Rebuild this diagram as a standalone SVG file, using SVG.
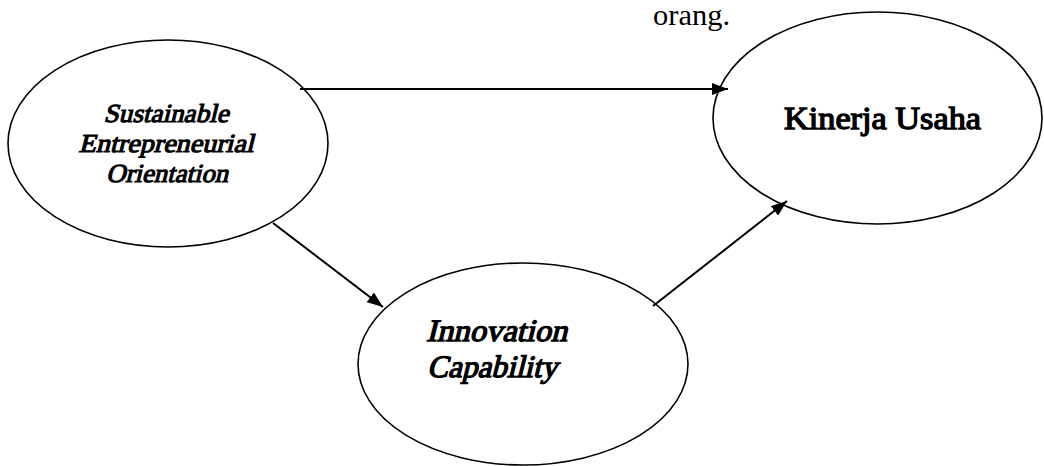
<svg xmlns="http://www.w3.org/2000/svg" width="1044" height="466" viewBox="0 0 1044 466">
<style>
.node{fill:#fff;stroke:#000;stroke-width:1.6}
.conn{stroke:#000;stroke-width:2;fill:none}
.t{font-family:"Liberation Serif","Times New Roman",Times,serif;font-weight:normal;font-style:normal;fill:#000}
.bold{stroke:#000;stroke-width:1.1;stroke-linejoin:miter}
.bold2{stroke:#000;stroke-width:1.3;stroke-linejoin:miter}
</style>
<defs>
<marker id="arr" viewBox="0 0 16 12" refX="16" refY="6" markerWidth="16" markerHeight="12" markerUnits="userSpaceOnUse" orient="auto">
<path d="M0,0 L16,6 L0,12 Z" fill="#000"/>
</marker>
</defs>
<rect width="1044" height="466" fill="#fff"/>
<text class="t" x="653" y="25" font-size="30" textLength="77" lengthAdjust="spacingAndGlyphs">orang.</text>
<g id="node-seo">
<ellipse class="node" cx="168" cy="143.5" rx="160" ry="103.5"/>
<text class="t bold" font-size="26" text-anchor="middle" transform="translate(166,122) skewX(-14)" textLength="125" lengthAdjust="spacingAndGlyphs">Sustainable</text>
<text class="t bold" font-size="26" text-anchor="middle" transform="translate(166,152) skewX(-14)" textLength="175" lengthAdjust="spacingAndGlyphs">Entrepreneurial</text>
<text class="t bold" font-size="26" text-anchor="middle" transform="translate(167,182) skewX(-14)" textLength="122" lengthAdjust="spacingAndGlyphs">Orientation</text>
</g>
<g id="node-innovation">
<ellipse class="node" cx="523" cy="364" rx="165" ry="101"/>
<text class="t bold2" font-size="31" transform="translate(426,341) skewX(-14)" textLength="141" lengthAdjust="spacingAndGlyphs">Innovation</text>
<text class="t bold2" font-size="31" transform="translate(427,377) skewX(-14)" textLength="130" lengthAdjust="spacingAndGlyphs">Capability</text>
</g>
<g id="node-kinerja">
<ellipse class="node" cx="877.5" cy="118" rx="164.5" ry="106"/>
<text class="t bold2" x="784" y="129" font-size="31" textLength="197" lengthAdjust="spacingAndGlyphs">Kinerja Usaha</text>
</g>
<g id="connectors">
<line class="conn" x1="300" y1="89" x2="728" y2="89" marker-end="url(#arr)"/>
<line class="conn" x1="273" y1="223" x2="383" y2="307" marker-end="url(#arr)"/>
<line class="conn" x1="653" y1="306" x2="787" y2="201" marker-end="url(#arr)"/>
</g>
</svg>
